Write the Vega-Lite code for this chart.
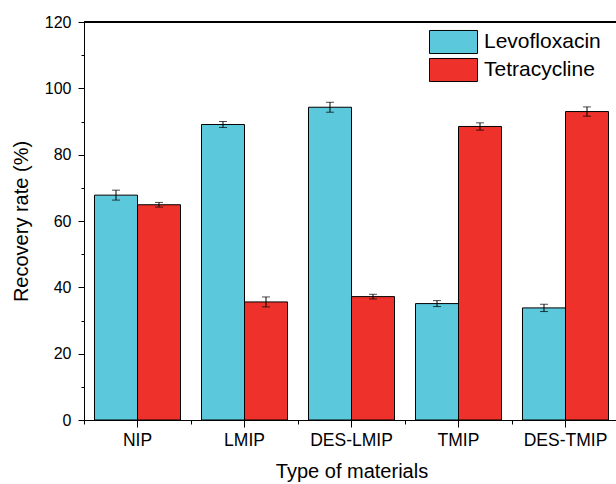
{
  "$schema": "https://vega.github.io/schema/vega-lite/v6.json",
  "autosize": {"type": "none"},
  "padding": {"left": 84, "top": 22, "right": 0, "bottom": 64},
  "width": 532,
  "height": 398,
  "background": "white",
  "config": {
    "font": "Liberation Sans",
    "view": {"stroke": null},
    "axis": {"domainColor": "black", "tickColor": "black", "labelColor": "black", "titleColor": "black", "grid": false, "labelFontSize": 16, "titleFontSize": 20, "titleFontWeight": "normal", "tickWidth": 1, "domainWidth": 1}
  },
  "data": {
    "values": [
      {"material": "NIP", "drug": "Levofloxacin", "value": 67.8, "err": 1.5},
      {"material": "NIP", "drug": "Tetracycline", "value": 64.9, "err": 0.7},
      {"material": "LMIP", "drug": "Levofloxacin", "value": 89.1, "err": 0.9},
      {"material": "LMIP", "drug": "Tetracycline", "value": 35.6, "err": 1.5},
      {"material": "DES-LMIP", "drug": "Levofloxacin", "value": 94.3, "err": 1.5},
      {"material": "DES-LMIP", "drug": "Tetracycline", "value": 37.2, "err": 0.7},
      {"material": "TMIP", "drug": "Levofloxacin", "value": 35.1, "err": 0.9},
      {"material": "TMIP", "drug": "Tetracycline", "value": 88.5, "err": 1.1},
      {"material": "DES-TMIP", "drug": "Levofloxacin", "value": 33.8, "err": 1.1},
      {"material": "DES-TMIP", "drug": "Tetracycline", "value": 93.0, "err": 1.4}
    ]
  },
  "layer": [
    {
      "mark": {"type": "bar", "stroke": "black", "strokeWidth": 1},
      "encoding": {
        "x": {"field": "material", "type": "nominal", "sort": ["NIP", "LMIP", "DES-LMIP", "TMIP", "DES-TMIP"],
          "scale": {"range": [0, 535], "paddingInner": 0, "paddingOuter": 0},
          "axis": {"title": "Type of materials", "labelAngle": 0, "labelFontSize": 17.5, "tickSize": 7, "labelPadding": 4, "titlePadding": 13, "domain": true}},
        "xOffset": {"field": "drug", "type": "nominal", "scale": {"paddingInner": 0, "paddingOuter": 0.244}},
        "y": {"field": "value", "type": "quantitative",
          "scale": {"domain": [0, 120], "nice": false, "zero": true},
          "axis": {"title": "Recovery rate (%)", "values": [0, 20, 40, 60, 80, 100, 120], "tickSize": 6, "labelPadding": 7, "titlePadding": 13}},
        "color": {"field": "drug", "type": "nominal",
          "scale": {"domain": ["Levofloxacin", "Tetracycline"], "range": ["#5BC8DC", "#EE322B"]},
          "legend": {"title": null, "orient": "none", "legendX": 357, "legendY": 7.5, "padding": 0,
            "symbolType": "M-2,-0.96H2V0.96H-2Z", "symbolSize": 576, "symbolStrokeColor": "black", "symbolStrokeWidth": 1, "symbolOpacity": 1,
            "labelFontSize": 21, "labelColor": "black", "labelOffset": 18, "rowPadding": -1}}
      }
    },
    {
      "mark": {"type": "errorbar", "ticks": {"size": 8, "color": "black"}, "color": "black", "thickness": 1},
      "encoding": {
        "x": {"field": "material", "type": "nominal", "sort": ["NIP", "LMIP", "DES-LMIP", "TMIP", "DES-TMIP"],
          "axis": {"title": null, "orient": "bottom", "labels": false, "domain": false, "tickBand": "extent", "tickSize": 4}},
        "xOffset": {"field": "drug", "type": "nominal"},
        "y": {"field": "value", "type": "quantitative", "axis": null},
        "yError": {"field": "err"}
      }
    },
    {
      "mark": {"type": "rule", "color": "black", "strokeWidth": 1},
      "encoding": {
        "y": {"datum": 120, "type": "quantitative",
          "axis": {"title": null, "orient": "left", "labels": false, "domain": false, "values": [10, 30, 50, 70, 90, 110], "tickSize": 3}}
      }
    }
  ],
  "resolve": {"axis": {"x": "independent", "y": "independent"}}
}
